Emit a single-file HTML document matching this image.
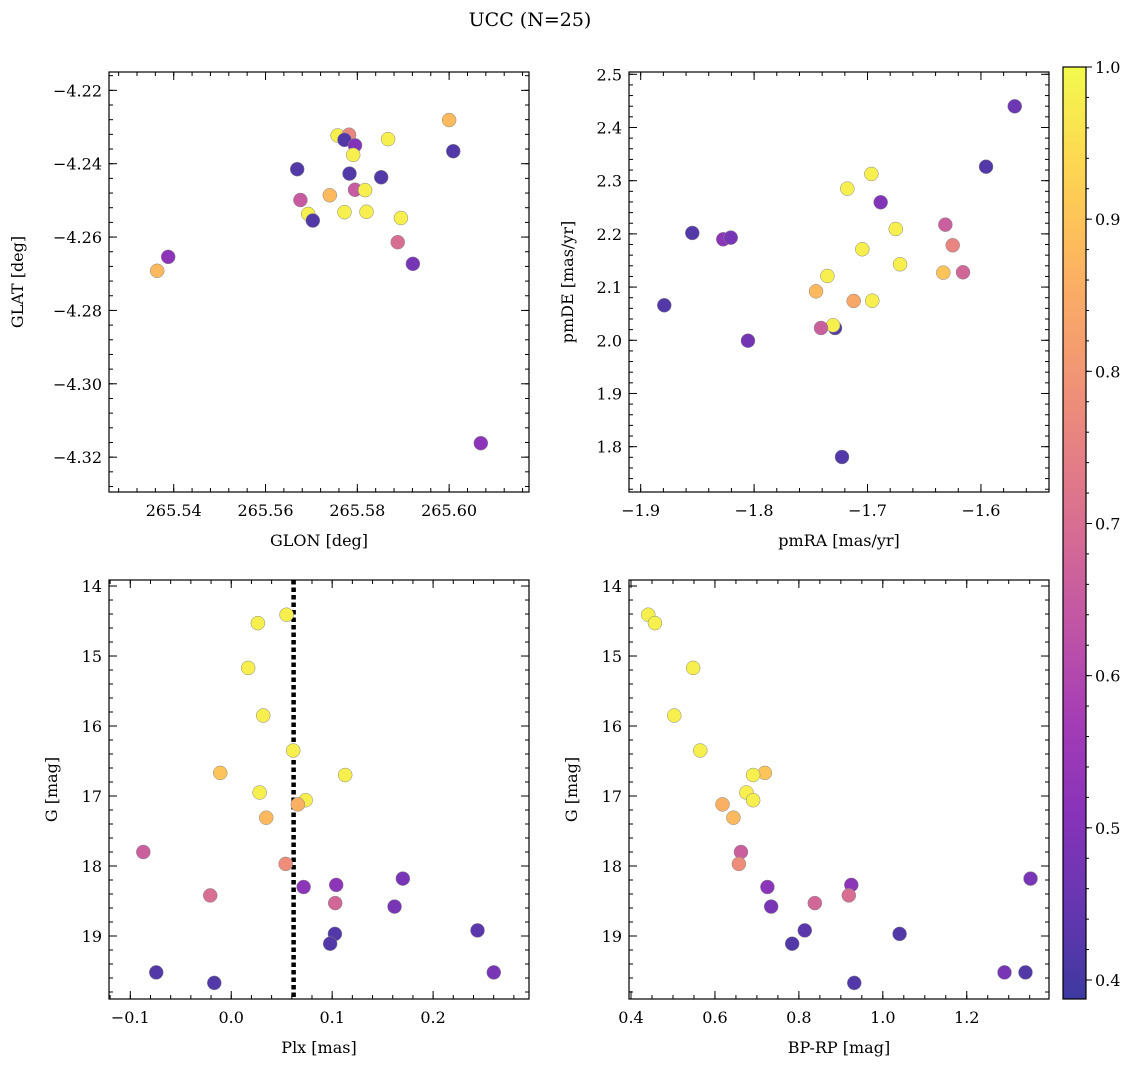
<!DOCTYPE html>
<html><head><meta charset="utf-8"><style>
html,body{margin:0;padding:0;background:#fff;}
svg{display:block;font-family:"DejaVu Serif","Liberation Serif",serif;}
</style></head><body>
<svg id="fig" width="1136" height="1067" viewBox="0 0 1136 1067" xmlns="http://www.w3.org/2000/svg">
<text x="530" y="26" font-size="19" text-anchor="middle">UCC (N=25)</text>
</svg>
<script>
// ---- Panel 1: GLON / GLAT ----
const p1Glon=[265.6000,265.5757,265.5782,265.5772,265.5795,265.5791,265.5867,265.6009,265.5669,265.5783,265.5852,265.5795,265.5817,265.5740,265.5676,265.5693,265.5703,265.5772,265.5820,265.5895,265.5888,265.5921,265.5388,265.5364,265.6069];
const p1Glat=[-4.2281,-4.2323,-4.2321,-4.2335,-4.2350,-4.2376,-4.2333,-4.2366,-4.2415,-4.2427,-4.2437,-4.2471,-4.2472,-4.2486,-4.2499,-4.2537,-4.2555,-4.2532,-4.2531,-4.2548,-4.2614,-4.2673,-4.2654,-4.2692,-4.3162];
const p1Prob=[0.88,0.98,0.76,0.42,0.5,0.98,0.98,0.42,0.42,0.42,0.42,0.65,0.98,0.88,0.65,0.98,0.42,0.98,0.98,0.98,0.7,0.48,0.52,0.88,0.52];
// ---- Panel 2: pmRA / pmDE ----
const p2PmRA=[-1.5702,-1.5955,-1.6966,-1.7178,-1.6884,-1.6751,-1.6314,-1.8545,-1.8272,-1.8206,-1.7046,-1.6249,-1.6713,-1.7354,-1.6332,-1.6158,-1.7454,-1.7122,-1.6958,-1.8792,-1.7287,-1.7304,-1.7410,-1.8054,-1.7225];
const p2PmDE=[2.4398,2.3263,2.3126,2.2850,2.2594,2.2092,2.2173,2.2017,2.1898,2.1929,2.1711,2.1786,2.1429,2.1209,2.1271,2.1278,2.0921,2.0739,2.0744,2.0658,2.0231,2.0282,2.0231,1.9992,1.7806];
const p2Prob=[0.46,0.42,0.98,0.98,0.5,0.98,0.66,0.42,0.52,0.48,0.98,0.76,0.98,0.98,0.9,0.68,0.88,0.84,0.98,0.42,0.42,0.98,0.66,0.47,0.42];
// ---- Panels 3 & 4: Plx, BP-RP, G ----
const gMag=[14.41,14.53,15.17,15.85,16.35,16.67,16.70,16.95,17.06,17.12,17.31,17.80,17.97,18.18,18.27,18.30,18.42,18.53,18.58,18.92,18.97,19.11,19.52,19.52,19.67];
const plx=[0.0548,0.0264,0.0168,0.0317,0.0614,-0.0109,0.1129,0.0281,0.0737,0.0660,0.0347,-0.0871,0.0539,0.1700,0.1040,0.0717,-0.0208,0.1030,0.1618,0.2440,0.1027,0.0980,0.2601,-0.0743,-0.0168];
const bprp=[0.441,0.457,0.548,0.503,0.565,0.719,0.691,0.675,0.691,0.618,0.644,0.662,0.657,1.352,0.925,0.725,0.919,0.838,0.734,0.814,1.040,0.784,1.290,1.340,0.932];
const gProb=[0.98,0.98,0.98,0.98,0.98,0.9,0.98,0.98,0.98,0.86,0.88,0.66,0.78,0.48,0.52,0.52,0.7,0.68,0.48,0.43,0.42,0.42,0.48,0.42,0.42];
const plxLine=0.0618;
const p1XTicks=[265.54,265.56,265.58,265.60], p1YTicks=[-4.22,-4.24,-4.26,-4.28,-4.30,-4.32];
const p2XTicks=[-1.9,-1.8,-1.7,-1.6], p2YTicks=[1.8,1.9,2.0,2.1,2.2,2.3,2.4,2.5];
const p3XTicks=[-0.1,0.0,0.1,0.2], gTicks=[14,15,16,17,18,19];
const p4XTicks=[0.4,0.6,0.8,1.0,1.2];
const cbTicks=[0.4,0.5,0.6,0.7,0.8,0.9,1.0];
const cMin=0.3875,cMax=1.0;

const NS="http://www.w3.org/2000/svg";
const fig=document.getElementById('fig');
function el(tag,attrs,parent){const e=document.createElementNS(NS,tag);for(const k in attrs)e.setAttribute(k,attrs[k]);(parent||fig).appendChild(e);return e;}
const stops=["#0d0887","#41049d","#6a00a8","#8f0da4","#b12a90","#cc4778","#e16462","#f2844b","#fca636","#fcce25","#f0f921"];
function hx(h){return [parseInt(h.substr(1,2),16),parseInt(h.substr(3,2),16),parseInt(h.substr(5,2),16)];}
const A=0.8;
function plasma(t){t=Math.max(0,Math.min(1,t));const f=t*10,i=Math.min(9,Math.floor(f)),r=f-i;const a=hx(stops[i]),b=hx(stops[i+1]);return `rgb(${a.map((v,k)=>Math.round((v+(b[k]-v)*r)*A+255*(1-A))).join(',')})`;}
function cmap(v){return plasma((v-cMin)/(cMax-cMin));}
function fmt(v,d){let s=v.toFixed(d);return s.replace('-','\u2212');}

function panel(name,box,xd,yd,xt,yt,xminor,yminor,xdec,ydec,xlabel,ylabel,invY,yoff){
  const [L,T,R,B]=box;
  const sx=v=>L+(v-xd[0])/(xd[1]-xd[0])*(R-L);
  const sy=invY? v=>T+(v-yd[0])/(yd[1]-yd[0])*(B-T) : v=>B-(v-yd[0])/(yd[1]-yd[0])*(B-T);
  const g=el('g',{});
  
  
  const ax=el('g',{},g);
  
  
  const tk=(x1,y1,x2,y2)=>el('line',{x1,y1,x2,y2,stroke:'#000','stroke-width':1},ax);
  const xs=Math.ceil(xd[0]/xminor-1e-6), xe=Math.floor(xd[1]/xminor+1e-6);
  for(let i=xs;i<=xe;i++){const x=sx(i*xminor);tk(x,B,x,B-4);tk(x,T,x,T+4);}
  const lo=Math.min(yd[0],yd[1]),hi=Math.max(yd[0],yd[1]);
  const ys=Math.ceil(lo/yminor-1e-6), ye=Math.floor(hi/yminor+1e-6);
  for(let i=ys;i<=ye;i++){const y=sy(i*yminor);tk(L,y,L+4,y);tk(R,y,R-4,y);}
  xt.forEach(v=>{const x=sx(v);tk(x,B,x,B-8);tk(x,T,x,T+8);
    const t=el('text',{x:x,y:B+24,'font-size':16,'text-anchor':'middle'},ax);t.textContent=fmt(v,xdec);
    
    });
  yt.forEach(v=>{const y=sy(v);tk(L,y,L+8,y);tk(R,y,R-8,y);
    const t=el('text',{x:L-7,y:y+6,'font-size':16,'text-anchor':'end'},ax);t.textContent=fmt(v,ydec);
    
    });
  const xl=el('text',{x:(L+R)/2,y:B+54,'font-size':16,'text-anchor':'middle'},g);xl.textContent=xlabel;
  
  
  const yx=L-yoff;
  const yl=el('text',{x:yx,y:(T+B)/2,'font-size':16,'text-anchor':'middle',transform:`rotate(-90 ${yx} ${(T+B)/2})`},g);yl.textContent=ylabel;
  
  
  return {g,sx,sy,L,T,R,B};
}
function scatter(p,xs,ys,cs,name){
  const cg=el('g',{},p.g);
  
  
  xs.forEach((x,i)=>{const c=el('circle',{cx:p.sx(x),cy:p.sy(ys[i]),r:7,fill:cmap(cs[i]),stroke:'#888','stroke-width':0.5},cg);
    
    });
}
function frame(p){const r=el('rect',{x:p.L,y:p.T,width:p.R-p.L,height:p.B-p.T,fill:'none',stroke:'#000','stroke-width':1.2},p.g);
  
  }

const p1=panel('panel-glon-glat',[109,72,529,492],[265.5259,265.6174],[-4.3295,-4.2150],p1XTicks,p1YTicks,0.004,0.004,2,2,'GLON [deg]','GLAT [deg]',false,86);
scatter(p1,p1Glon,p1Glat,p1Prob,'glon-glat-points');frame(p1);
const p2=panel('panel-pm',[629,72,1049,492],[-1.9103,-1.5400],[1.7148,2.5043],p2XTicks,p2YTicks,0.02,0.02,1,1,'pmRA [mas/yr]','pmDE [mas/yr]',false,56);
scatter(p2,p2PmRA,p2PmDE,p2Prob,'pm-points');frame(p2);
const p3=panel('panel-plx-g',[109,580,529,999],[-0.1211,0.2950],[13.914,19.9],p3XTicks,gTicks,0.02,0.2,1,0,'Plx [mas]','G [mag]',true,52);
const vl=el('line',{x1:p3.sx(plxLine),y1:p3.T,x2:p3.sx(plxLine),y2:p3.B,stroke:'#000','stroke-width':4.5,'stroke-dasharray':'4.5 3'},p3.g);


scatter(p3,plx,gMag,gProb,'plx-g-points');frame(p3);
const p4=panel('panel-color-g',[629,580,1049,999],[0.3952,1.396],[13.914,19.9],p4XTicks,gTicks,0.05,0.2,1,0,'BP-RP [mag]','G [mag]',true,52);
scatter(p4,bprp,gMag,gProb,'color-g-points');frame(p4);

const cb=el('g',{});


const defs=el('defs',{},cb);
const lg=el('linearGradient',{id:'cbg',x1:0,y1:1,x2:0,y2:0},defs);
for(let i=0;i<=20;i++){el('stop',{offset:i/20,'stop-color':plasma(i/20)},lg);}
const cL=1063,cR=1086,cT=67,cB=999;
el('rect',{x:cL,y:cT,width:cR-cL,height:cB-cT,fill:'url(#cbg)',stroke:'#000','stroke-width':1.2},cb);
const cy=v=>cB-(v-cMin)/(cMax-cMin)*(cB-cT);
for(let i=20;i<=50;i++){const v=i*0.02;if(v<cMin||v>cMax+1e-9)continue;el('line',{x1:cR,y1:cy(v),x2:cR+3,y2:cy(v),stroke:'#000'},cb);}
cbTicks.forEach(v=>{el('line',{x1:cR,y1:cy(v),x2:cR+6,y2:cy(v),stroke:'#000'},cb);
  const t=el('text',{x:cR+9,y:cy(v)+6,'font-size':16},cb);t.textContent=v.toFixed(1);
  
  });
</script>
</body></html>
